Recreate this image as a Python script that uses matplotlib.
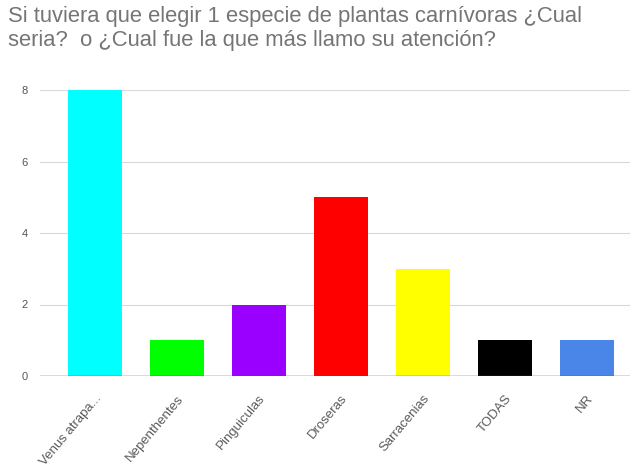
import matplotlib.pyplot as plt

categories = ['Venus atrapa...', 'Nepenthentes', 'Pinguiculas', 'Droseras',
              'Sarracenias', 'TODAS', 'NR']
values = [8, 1, 2, 5, 3, 1, 1]
colors = ['#00ffff', '#00ff00', '#9900ff', '#ff0000', '#ffff00', '#000000', '#4a86e8']
yticks = [0, 2, 4, 6, 8]

plt.rcParams['font.family'] = ['Liberation Sans', 'DejaVu Sans']

fig = plt.figure(figsize=(6.33, 4.71), dpi=100)
ax = fig.add_axes([40 / 633, 1 - 376 / 471, 590 / 633, 286 / 471])

x = range(len(categories))
ax.bar(x, values, width=0.66, color=colors, zorder=3)

ax.set_xlim(-0.67, 6.53)
ax.set_ylim(0, 8)
ax.set_yticks(yticks)
ax.set_yticklabels([str(t) for t in yticks], fontsize=8, color='#555555')
ax.grid(axis='y', color='#d9d9d9', linewidth=0.8, zorder=0)
ax.axhline(0, color='#555555', linewidth=1, zorder=4)

ax.set_xticks(list(x))
ax.set_xticklabels(categories, rotation=50, ha='right', rotation_mode='anchor',
                   fontsize=9.5, color='#5a5a5a')

ax.tick_params(axis='both', length=0)
ax.tick_params(axis='x', pad=12)
ax.tick_params(axis='y', pad=9)
for s in ax.spines.values():
    s.set_visible(False)

fig.text(8 / 633, 1 - 6 / 471,
         'Si tuviera que elegir 1 especie de plantas carnívoras ¿Cual\n'
         'seria?  o ¿Cual fue la que más llamo su atención?',
         ha='left', va='top', fontsize=15.8, color='#757575', linespacing=1.2)

fig.savefig('out.png', dpi=100)
